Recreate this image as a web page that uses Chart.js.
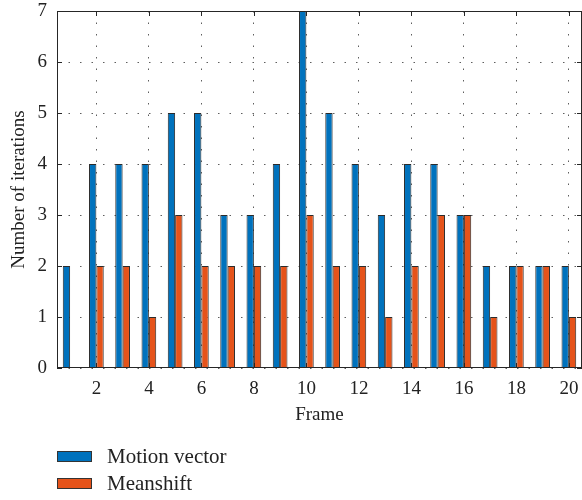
<!DOCTYPE html>
<html>
<head>
<meta charset="utf-8">
<script src="https://cdn.jsdelivr.net/npm/chart.js@4.4.1/dist/chart.umd.min.js"></script>
<style>
  body { margin: 0; background: #fff; }
  #wrap { position: relative; width: 582px; height: 500px; }
  #legend { position: absolute; left: 57px; top: 443px; font: 21px "Liberation Serif", serif; color: #222; }
  #legend .item { display: flex; align-items: center; height: 27px; }
  #legend .box { width: 33px; height: 9px; border: 1px solid #333; margin-right: 15px; }
</style>
</head>
<body>
<div id="wrap">
  <canvas id="chart" width="582" height="500"></canvas>
  <div id="legend"></div>
</div>
<script>
var frames = ['1','2','3','4','5','6','7','8','9','10','11','12','13','14','15','16','17','18','19','20'];
var motionVector = [2, 4, 4, 4, 5, 5, 3, 3, 4, 7, 5, 4, 3, 4, 4, 3, 2, 2, 2, 2];
var meanshift = [0, 2, 2, 1, 3, 2, 2, 2, 2, 3, 2, 2, 1, 2, 3, 3, 1, 2, 2, 1];
var yTicks = [0, 1, 2, 3, 4, 5, 6, 7];

var BLUE = '#0072BD';
var ORANGE = '#E5531A';
var FONT = { family: '"Liberation Serif", serif', size: 19 };
var GRID = 'rgba(40,40,40,0.75)';

// MATLAB style box with inward tick marks
var boxPlugin = {
  id: 'box',
  afterDraw: function (chart) {
    var ctx = chart.ctx, a = chart.chartArea;
    var x = chart.scales.x, y = chart.scales.y;
    ctx.save();
    ctx.strokeStyle = '#262626';
    ctx.lineWidth = 1;
    ctx.strokeRect(a.left + 0.5, a.top + 0.5, a.right - a.left - 1, a.bottom - a.top - 1);
    ctx.beginPath();
    var len = 5;
    yTicks.forEach(function (v) {
      var py = Math.round(y.getPixelForValue(v)) + 0.5;
      ctx.moveTo(a.left, py); ctx.lineTo(a.left + len, py);
      ctx.moveTo(a.right, py); ctx.lineTo(a.right - len, py);
    });
    frames.forEach(function (f, i) {
      if (i % 2 === 0) return;
      var px = Math.round(x.getPixelForValue(i)) + 0.5;
      ctx.moveTo(px, a.bottom); ctx.lineTo(px, a.bottom - len);
      ctx.moveTo(px, a.top); ctx.lineTo(px, a.top + len);
    });
    ctx.stroke();
    ctx.restore();
  }
};

var chart = new Chart(document.getElementById('chart'), {
  type: 'bar',
  data: {
    labels: frames,
    datasets: [
      { label: 'Motion vector', data: motionVector, backgroundColor: BLUE, borderColor: '#2b2b2b', borderWidth: 1, borderSkipped: 'bottom' },
      { label: 'Meanshift', data: meanshift, backgroundColor: ORANGE, borderColor: '#2b2b2b', borderWidth: 1, borderSkipped: 'bottom' }
    ]
  },
  options: {
    responsive: false,
    animation: false,
    devicePixelRatio: 1,
    layout: { padding: { left: 0, right: 0, top: 0, bottom: 74 } },
    datasets: { bar: { categoryPercentage: 0.56, barPercentage: 1 } },
    plugins: { legend: { display: false }, tooltip: { enabled: false } },
    scales: {
      x: {
        grid: {
          offset: false,
          drawTicks: false,
          color: function (c) { return c.index % 2 === 1 ? GRID : 'transparent'; },
          lineWidth: 1
        },
        border: { display: false, dash: [1.5, 10] },
        ticks: {
          autoSkip: false, maxRotation: 0, padding: 10, color: '#222', font: FONT,
          callback: function (v, i) { return i % 2 === 1 ? frames[i] : ''; }
        },
        title: { display: true, text: 'Frame', color: '#222', font: FONT, padding: 0 },
        afterFit: function (s) { s.height = 58; s.paddingLeft = 0; s.paddingRight = 0; }
      },
      y: {
        min: 0, max: 7,
        grid: { drawTicks: false, color: GRID, lineWidth: 1 },
        border: { display: false, dash: [1.5, 10] },
        ticks: { stepSize: 1, padding: 10, color: '#222', font: FONT },
        title: { display: true, text: 'Number of iterations', color: '#222', font: FONT, padding: { top: 8, bottom: 0 } },
        afterFit: function (s) { s.width = 57; s.paddingTop = 11; s.paddingBottom = 0; }
      }
    }
  },
  plugins: [boxPlugin]
});

var legend = document.getElementById('legend');
chart.data.datasets.forEach(function (ds) {
  var item = document.createElement('div');
  item.className = 'item';
  var box = document.createElement('span');
  box.className = 'box';
  box.style.background = ds.backgroundColor;
  var text = document.createElement('span');
  text.textContent = ds.label;
  item.appendChild(box);
  item.appendChild(text);
  legend.appendChild(item);
});
</script>
</body>
</html>
